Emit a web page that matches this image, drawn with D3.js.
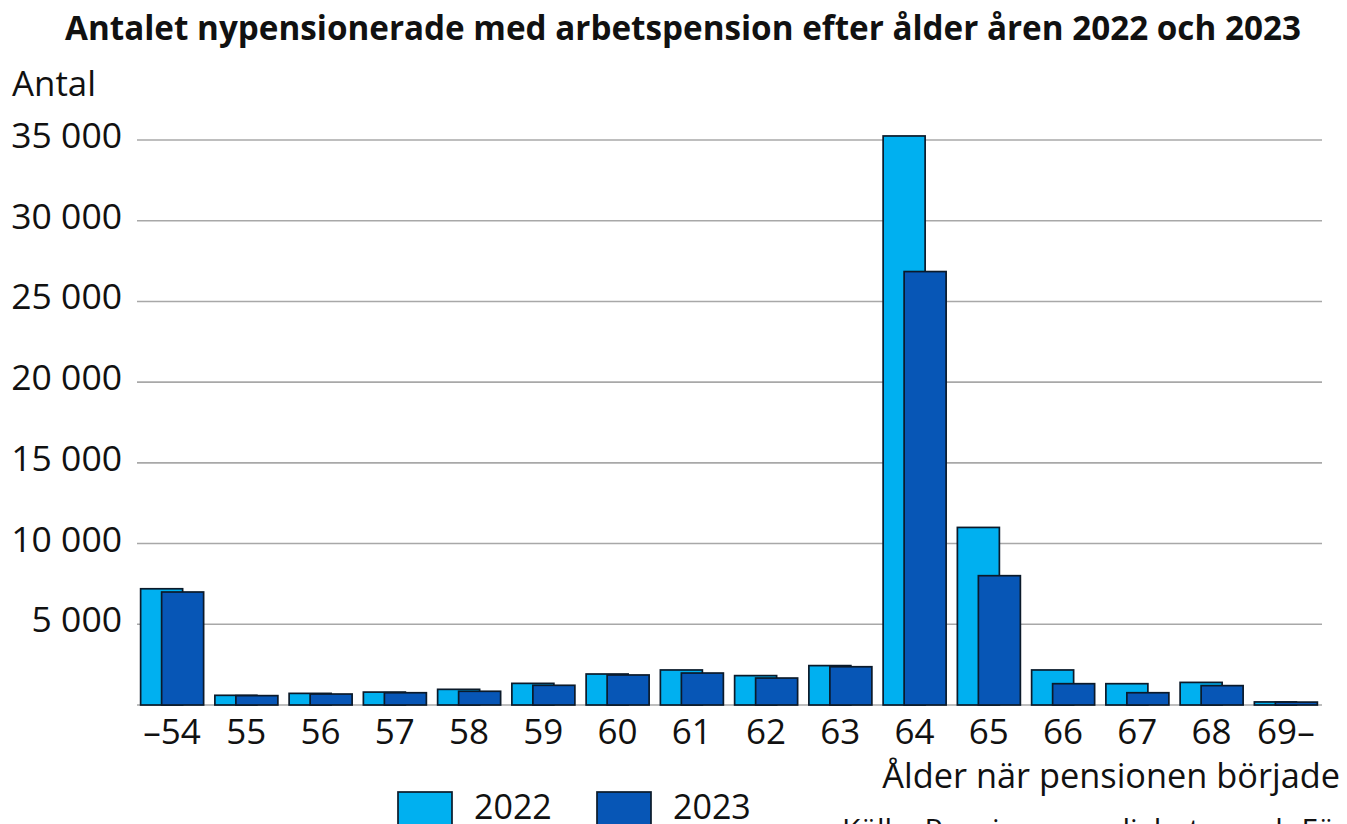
<!DOCTYPE html>
<html>
<head>
<meta charset="utf-8">
<script src="https://cdn.jsdelivr.net/npm/d3@7"></script>
<style>
  body { margin: 0; background: #fff; }
  svg text { font-family: "Open Sans", sans-serif; fill: #111; }
</style>
</head>
<body>
<div id="c"></div>
<script>
"use strict";

const ages = ["–54","55","56","57","58","59","60","61","62","63","64","65","66","67","68","69–"]
const values2022 = [7200,600,720,800,970,1340,1920,2170,1820,2440,35250,11000,2170,1320,1400,190]
const values2023 = [7000,580,680,760,850,1220,1860,1980,1670,2370,26850,8010,1320,760,1200,180]
const yTicks = [5000,10000,15000,20000,25000,30000,35000]
const seriesNames = ["2022","2023"]
const colors = ["#00b0f0","#0756b6"]

const W = 1347, H = 824

// shrink or grow a text until it has the wanted width
function fitText(t, width) {
    let size = parseFloat(t.style("font-size"))
    let w = t.node().getComputedTextLength()
    t.style("font-size", (size*width/w).toFixed(2)+"px")
}

const svg = d3.select("#c").append("svg")
    .attr("width", W).attr("height", H)

const xScale = d3.scaleBand()
    .domain(ages)
    .range([135, 1323])
const yScale = d3.scaleLinear()
    .domain([0, 35000])
    .range([705, 140])

const locale = d3.formatLocale({decimal: ",", thousands: " ", grouping: [3], currency: ["",""]})
const fmt = locale.format(",.0f")

// gridlines
svg.append("g")
    .selectAll("line")
    .data([0].concat(yTicks))
    .enter().append("line")
        .attr("x1", 137).attr("x2", 1322)
        .attr("y1", d => yScale(d)).attr("y2", d => yScale(d))
        .attr("stroke", "#a8a8a8")
        .attr("stroke-width", 1.6)

// y labels
svg.append("g")
    .selectAll("text")
    .data(yTicks)
    .enter().append("text")
        .attr("x", 122)
        .attr("y", d => yScale(d) + 8)
        .attr("text-anchor", "end")
        .style("font-size", "35.5px")
        .text(d => fmt(d))

// bars
const barW = 42
const step = xScale.bandwidth()
const rows = ages.map((a, i) => ({age: a, v: [values2022[i], values2023[i]]}))
const groups = svg.append("g")
    .selectAll("g")
    .data(rows)
    .enter().append("g")
        .attr("transform", d => "translate(" + (xScale(d.age) + step/2) + ",0)")

groups.selectAll("rect")
    .data(d => d.v.map((v, k) => ({v: v, k: k})))
    .enter().append("rect")
        .attr("x", d => -31.5 + d.k*21)
        .attr("y", d => yScale(d.v))
        .attr("width", barW)
        .attr("height", d => yScale(0) - yScale(d.v))
        .attr("fill", d => colors[d.k])
        .attr("stroke", "#0b1a2a")
        .attr("stroke-width", 1.7)

// x labels
svg.append("g")
    .selectAll("text")
    .data(ages)
    .enter().append("text")
        .attr("x", d => xScale(d) + step/2)
        .attr("y", 744)
        .attr("text-anchor", "middle")
        .style("font-size", "35px")
        .text(d => d)

// title
let title = svg.append("text")
    .attr("x", 65).attr("y", 40)
    .style("font-size", "28px")
    .style("font-weight", "bold")
    .text("Antalet nypensionerade med arbetspension efter ålder åren 2022 och 2023")
fitText(title, 1236)

let yTitle = svg.append("text")
    .attr("x", 12).attr("y", 96)
    .style("font-size", "32px")
    .text("Antal")
fitText(yTitle, 84)

let xTitle = svg.append("text")
    .attr("x", 1340).attr("y", 788)
    .attr("text-anchor", "end")
    .style("font-size", "30px")
    .text("Ålder när pensionen började")
fitText(xTitle, 458)

svg.append("text")
    .attr("x", 842).attr("y", 840)
    .style("font-size", "30px")
    .text("Källa: Pensionsmyndigheten och Försäkringskassan")

// legend
const legend = svg.append("g")
    .selectAll("g")
    .data(seriesNames)
    .enter().append("g")
        .attr("transform", (d, i) => "translate(" + (398 + i*199) + ",792)")
legend.append("rect")
    .attr("width", 54).attr("height", 40)
    .attr("fill", (d, i) => colors[i])
    .attr("stroke", "#0b1a2a")
    .attr("stroke-width", 1.7)
legend.append("text")
    .attr("x", 76).attr("y", 27)
    .style("font-size", "34px")
    .text(d => d)
</script>
</body>
</html>
